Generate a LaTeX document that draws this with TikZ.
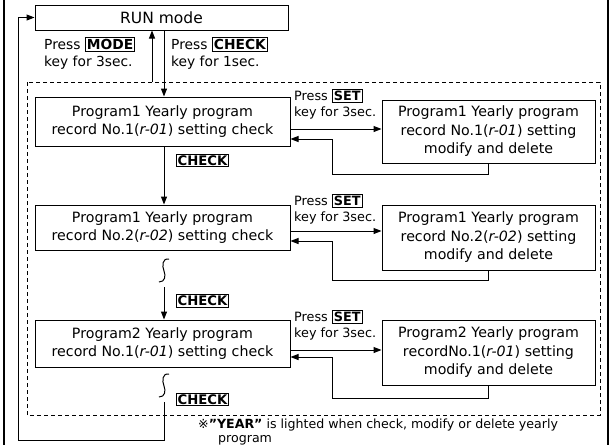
\documentclass[tikz,border=0pt]{standalone}
\usepackage{fontspec}
\setmainfont{DejaVu Sans}
\usetikzlibrary{arrows.meta}
\newcommand\kbox[1]{{\setlength\fboxrule{1pt}\setlength\fboxsep{1pt}\fbox{\bfseries #1}}}
\begin{document}
\begin{tikzpicture}[x=1pt,y=-1pt,
  box/.style={draw,line width=1pt,inner sep=0pt,align=center,font=\fontsize{14.2}{18.5}\selectfont},
  lbox/.style={box,minimum width=255pt},
  rbox/.style={box,minimum width=213pt},
  lab/.style={align=left,inner sep=0pt,font=\fontsize{12.8}{16}\selectfont},
  biglab/.style={lab,font=\fontsize{13.8}{17.5}\selectfont},
  keybox/.style={draw,line width=1pt,inner sep=1.2pt,font=\fontsize{13.2}{14}\selectfont\bfseries},
  arr/.style={line width=1pt,-{Triangle[length=8pt,width=6pt]}},
  ln/.style={line width=1pt}]
\useasboundingbox (0,0) rectangle (616,445);
% frame lines
\draw[line width=1.2pt] (4,0) -- (4,445);
\draw[line width=1.2pt] (608,0) -- (608,445);
% dashed region
\draw[line width=0.9pt,dash pattern=on 4pt off 3pt] (27,82) rectangle (600,415);
% boxes
\node[box,minimum width=253pt,minimum height=25pt,font=\fontsize{15.5}{18}\selectfont] (run) at (161.5,17.5) {RUN mode};
\node[lbox,minimum height=49pt] (L1) at (162.5,121.5) {Program1 Yearly program\\record No.1(\textit{r-01}) setting check};
\node[lbox,minimum height=45pt] (L2) at (162.5,227.5) {Program1 Yearly program\\record No.2(\textit{r-02}) setting check};
\node[lbox,minimum height=47pt] (L3) at (162.5,343.5) {Program2 Yearly program\\record No.1(\textit{r-01}) setting check};
\node[rbox,minimum height=63pt] (R1) at (488.5,131.5) {Program1 Yearly program\\record No.1(\textit{r-01}) setting\\modify and delete};
\node[rbox,minimum height=65pt] (R2) at (488.5,237.5) {Program1 Yearly program\\record No.2(\textit{r-02}) setting\\modify and delete};
\node[rbox,minimum height=65pt] (R3) at (488.5,352.5) {Program2 Yearly program\\recordNo.1(\textit{r-01}) setting\\modify and delete};
% labels
\node[biglab,anchor=north west] (pm) at (44,37) {Press \kbox{MODE}\\key for 3sec.};
\node[biglab,anchor=north west] (pc) at (171,37) {Press \kbox{CHECK}\\key for 1sec.};
\node[lab,anchor=north west] (ps1) at (294,89) {Press \kbox{SET}\\key for 3sec.};
\node[lab,anchor=north west] (ps2) at (294,194) {Press \kbox{SET}\\key for 3sec.};
\node[lab,anchor=north west] (ps3) at (294,310) {Press \kbox{SET}\\key for 3sec.};
\node[keybox] (c1) at (202.5,160.5) {CHECK};
\node[keybox] (c2) at (202.5,301) {CHECK};
\node[keybox] (c3) at (202.5,399.5) {CHECK};
% coordinates
\coordinate (xd) at (164,0);
\coordinate (xu) at (152,82);
\coordinate (s1t) at (164,287);
\coordinate (s2b) at (164,402);
\coordinate (bl) at (18,440);
\coordinate (a1) at (0,129);
\coordinate (b1) at (332,139);
\coordinate (a2) at (0,231);
\coordinate (b2) at (332,241);
\coordinate (a3) at (0,350);
\coordinate (b3) at (332,357);
% vertical flow
\draw[arr] (xu) -- (run.south -| xu);
\draw[arr] (run.south -| xd) -- (L1.north -| xd);
\draw[arr] (L1.south -| xd) -- (L2.north -| xd);
\draw[arr] (s1t) -- (L3.north -| xd);
\draw[arr] (s2b) |- (bl) |- (run.west);
% squiggles
\draw[ln] (169,259) .. controls (162,258) and (162,266) .. (164,271) .. controls (166,276) and (165,282) .. (159,282);
\draw[ln] (169,374) .. controls (162,373) and (162,381) .. (164,386) .. controls (166,391) and (165,397) .. (159,397);
% right arrows
\draw[arr] (L1.east |- a1) -- (R1.west |- a1);
\draw[arr] (L2.east |- a2) -- (R2.west |- a2);
\draw[arr] (L3.east |- a3) -- (R3.west |- a3);
% returns
\draw[arr] (R1.south) -- ++(0,11) -| (b1) -- (L1.east |- b1);
\draw[arr] (R2.south) -- ++(0,10) -| (b2) -- (L2.east |- b2);
\draw[arr] (R3.south) -- ++(0,13) -| (b3) -- (L3.east |- b3);
% footnote
\node[anchor=north west,inner sep=0pt,align=left,font=\fontsize{12.6}{13.6}\selectfont] (fn) at (198,419) {※\textbf{"YEAR"} is lighted when check, modify or delete yearly\\\hspace*{20pt}program};
\end{tikzpicture}
\end{document}
